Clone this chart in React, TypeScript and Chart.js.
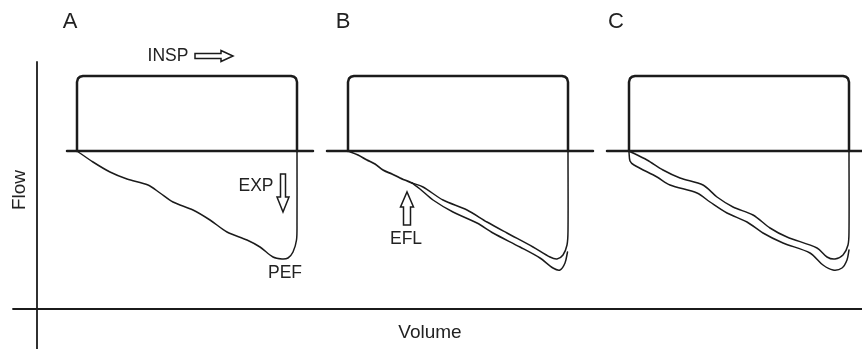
import React, { useEffect, useRef } from "react";
import { Chart, registerables } from "chart.js";

Chart.register(...registerables);

// Volume (x) and flow (y, inspiration positive) in arbitrary diagram units.
const VOL_RANGE = [0, 862];
const FLOW_RANGE = [-198, 151];

// Main axes of the diagram
const volumeAxis: [number, number][] = [[13, -158], [862, -158]];
const flowAxis: [number, number][] = [[37, 89], [37, -198]];

// Zero-flow lines of each panel
const zeroA: [number, number][] = [[67, 0], [313, 0]];
const zeroB: [number, number][] = [[327, 0], [593, 0]];
const zeroC: [number, number][] = [[607, 0], [862, 0]];

// Inspiratory (square) loops
const inspA: [number, number][] = [[77, 0], [77, 69], [78, 72.5], [80, 74.3], [83, 75], [291, 75], [294, 74.3], [296, 72.5], [297, 69], [297, 0]];
const inspB: [number, number][] = [[348, 0], [348, 69], [349, 72.5], [351, 74.3], [354, 75], [562, 75], [565, 74.3], [567, 72.5], [568, 69], [568, 0]];
const inspC: [number, number][] = [[629, 0], [629, 69], [630, 72.5], [632, 74.3], [635, 75], [843, 75], [846, 74.3], [848, 72.5], [849, 69], [849, 0]];

// Expiratory curves
const expA: [number, number][] = [[77, 0], [93, -11], [110, -21], [127, -28], [148, -34], [160, -42], [173, -51], [193, -59], [210, -69], [227, -81], [247, -89], [260, -96], [273, -106], [282, -108], [288, -107], [293, -101], [296.5, -89], [297, -72], [297, 0]];
const expBShared: [number, number][] = [[348, 0], [358, -4], [367, -9], [375, -13], [383, -19], [392, -23], [400, -27], [412, -32]];
const expBInner: [number, number][] = [[412, -32], [423, -36], [443, -49], [467, -59], [487, -71], [507, -82], [533, -96], [550, -106], [557, -108], [563, -104], [567, -94], [568, -80], [568, 0]];
const expBOuter: [number, number][] = [[412, -32], [420, -38], [433, -49], [453, -61], [477, -72], [493, -82], [520, -96], [540, -107], [553, -117], [560, -119], [565, -112], [567.5, -101]];
const expCInner: [number, number][] = [[629, 0], [647, -9], [663, -19], [680, -27], [703, -34], [717, -46], [733, -56], [753, -64], [770, -77], [787, -86], [817, -97], [827, -106], [835, -108], [843, -104], [848, -94], [849, -80], [849, 0]];
const expCOuter: [number, number][] = [[629, -1], [630, -10], [634, -14], [657, -26], [670, -34], [697, -42], [710, -51], [727, -62], [747, -71], [763, -82], [783, -92], [810, -102], [823, -114], [833, -119], [842, -117], [847, -109], [849, -99]];

// Text labels
const panelLabels = ["A", "B", "C"];
const panelLabelVol = [70, 343, 616];
const panelLabelFlow = 129;

const noteTexts = ["INSP", "EXP", "PEF", "EFL"];
const noteVol = [168, 256, 285, 406];
const noteFlow = [95, -35, -122, -88];

const axisTitles = ["Volume", "Flow"];

// Arrows: [volume, flow start, flow/volume end]
const inspArrow = { from: [195, 95], to: [233, 95] };
const expArrow = { from: [283, -23], to: [283, -61] };
const eflArrow = { from: [407, -74], to: [407, -41] };

const INK = "#1b1b1b";
const FONT = "'Liberation Sans', Arial, sans-serif";

function toXY(pts: [number, number][]) {
  return pts.map(([x, y]) => ({ x, y }));
}

export default function App() {
  const ref = useRef<HTMLCanvasElement | null>(null);

  useEffect(() => {
    document.body.style.margin = "0";
    const canvas = ref.current;
    if (!canvas) return;

    const line = (pts: [number, number][], width: number, tension = 0) => ({
      data: toXY(pts),
      showLine: true,
      borderColor: INK,
      backgroundColor: INK,
      borderWidth: width,
      pointRadius: 0,
      tension,
      fill: false,
      clip: false as any,
      borderCapStyle: "round" as const,
      borderJoinStyle: "round" as const,
    });

    const drawArrow = (
      ctx: CanvasRenderingContext2D,
      x1: number, y1: number, x2: number, y2: number,
      shaftHalf: number, headHalf: number, headLen: number
    ) => {
      const dx = x2 - x1, dy = y2 - y1;
      const len = Math.hypot(dx, dy);
      const ux = dx / len, uy = dy / len;
      const nx = -uy, ny = ux;
      const bx = x2 - ux * headLen, by = y2 - uy * headLen;
      ctx.beginPath();
      ctx.moveTo(x1 + nx * shaftHalf, y1 + ny * shaftHalf);
      ctx.lineTo(bx + nx * shaftHalf, by + ny * shaftHalf);
      ctx.lineTo(bx + nx * headHalf, by + ny * headHalf);
      ctx.lineTo(x2, y2);
      ctx.lineTo(bx - nx * headHalf, by - ny * headHalf);
      ctx.lineTo(bx - nx * shaftHalf, by - ny * shaftHalf);
      ctx.lineTo(x1 - nx * shaftHalf, y1 - ny * shaftHalf);
      ctx.closePath();
      ctx.fillStyle = "#ffffff";
      ctx.fill();
      ctx.lineWidth = 1.5;
      ctx.strokeStyle = INK;
      ctx.lineJoin = "miter";
      ctx.stroke();
    };

    const annotations = {
      id: "annotations",
      afterDatasetsDraw(chart: any) {
        const ctx: CanvasRenderingContext2D = chart.ctx;
        const xs = chart.scales.x, ys = chart.scales.y;
        const px = (v: number) => xs.getPixelForValue(v);
        const py = (v: number) => ys.getPixelForValue(v);
        ctx.save();
        ctx.fillStyle = "#222";
        ctx.textAlign = "center";
        ctx.textBaseline = "middle";
        ctx.font = `22px ${FONT}`;
        panelLabels.forEach((t, i) => ctx.fillText(t, px(panelLabelVol[i]), py(panelLabelFlow)));
        ctx.font = `17.5px ${FONT}`;
        noteTexts.forEach((t, i) => ctx.fillText(t, px(noteVol[i]), py(noteFlow[i])));
        ctx.font = `19px ${FONT}`;
        ctx.fillText(axisTitles[0], px(430), py(-182));
        ctx.save();
        ctx.translate(px(20), py(-39));
        ctx.rotate(-Math.PI / 2);
        ctx.fillText(axisTitles[1], 0, 0);
        ctx.restore();

        drawArrow(ctx, px(inspArrow.from[0]), py(inspArrow.from[1]), px(inspArrow.to[0]), py(inspArrow.to[1]), 2.5, 5.5, 12);
        drawArrow(ctx, px(expArrow.from[0]), py(expArrow.from[1]), px(expArrow.to[0]), py(expArrow.to[1]), 2.5, 6, 15);
        drawArrow(ctx, px(eflArrow.from[0]), py(eflArrow.from[1]), px(eflArrow.to[0]), py(eflArrow.to[1]), 3.5, 6.5, 15);
        ctx.restore();
      },
    };

    const chart = new Chart(canvas, {
      type: "scatter",
      data: {
        datasets: [
          line(volumeAxis, 1.8),
          line(flowAxis, 1.8),
          line(zeroA, 2.5),
          line(zeroB, 2.5),
          line(zeroC, 2.5),
          line(inspA, 2.5),
          line(inspB, 2.5),
          line(inspC, 2.5),
          line(expA, 1.5, 0.3),
          line(expBShared, 1.8, 0.3),
          line(expBInner, 1.5, 0.3),
          line(expBOuter, 1.5, 0.3),
          line(expCInner, 1.5, 0.3),
          line(expCOuter, 1.5, 0.3),
        ] as any,
      },
      options: {
        animation: false,
        responsive: true,
        maintainAspectRatio: false,
        events: [],
        layout: { padding: 0 },
        plugins: { legend: { display: false }, tooltip: { enabled: false } },
        scales: {
          x: { type: "linear", min: VOL_RANGE[0], max: VOL_RANGE[1], display: false },
          y: { type: "linear", min: FLOW_RANGE[0], max: FLOW_RANGE[1], display: false },
        },
      },
      plugins: [annotations],
    });
    return () => chart.destroy();
  }, []);

  return (
    <div style={{ position: "relative", width: 862, height: 349, background: "#fff" }}>
      <canvas ref={ref} />
    </div>
  );
}
